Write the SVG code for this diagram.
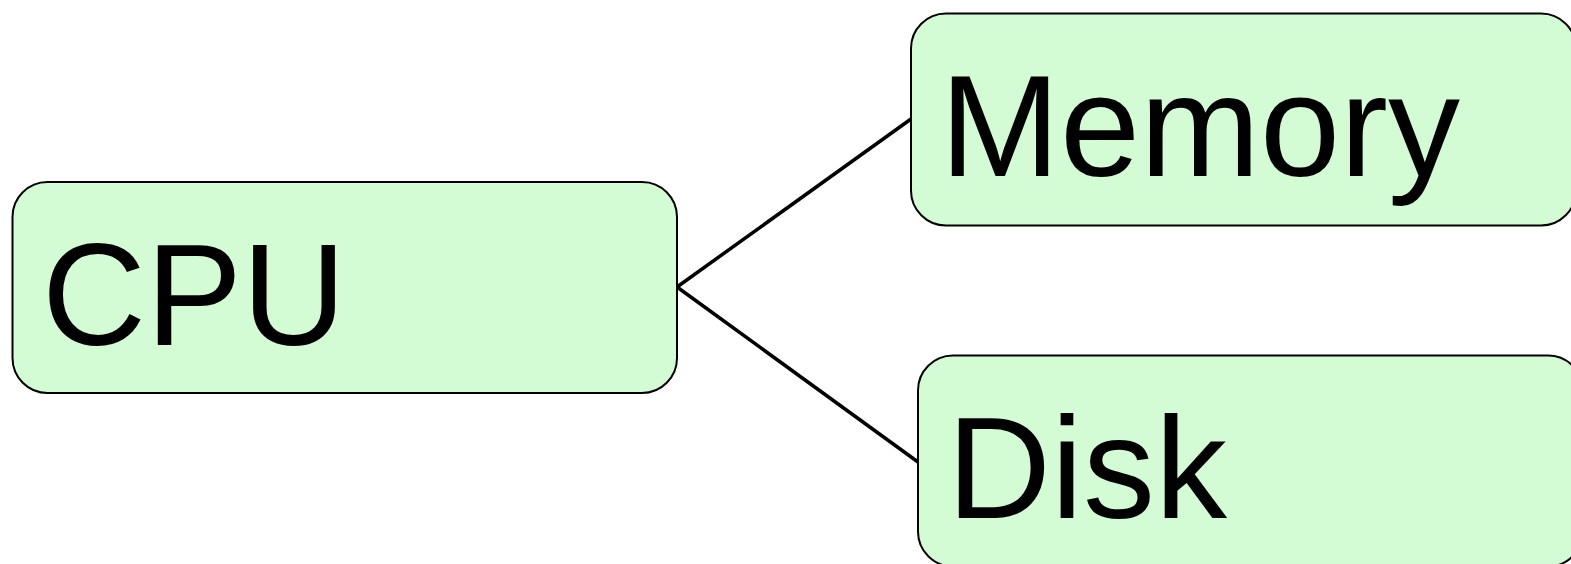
<svg xmlns="http://www.w3.org/2000/svg" width="1571" height="564" viewBox="0 0 1571 564">
<style>
.box{fill:#d3fcd5;stroke:#000;stroke-width:2}
.lbl{font-family:"Liberation Sans",Arial,sans-serif;font-size:144px;fill:#000}
.edge{stroke:#000;stroke-width:3.5;fill:none}
</style>
<rect width="1571" height="564" fill="#fff"/>
<g id="connectors">
<line class="edge" x1="677" y1="287" x2="911" y2="119"/>
<line class="edge" x1="677" y1="287" x2="918" y2="462"/>
</g>
<g id="cpu">
<rect class="box" x="12.5" y="182" width="664.5" height="211" rx="35"/>
<text class="lbl" x="42" y="345">CPU</text>
</g>
<g id="memory">
<rect class="box" x="911" y="13.5" width="665" height="212" rx="35"/>
<text class="lbl" x="940" y="176">Memory</text>
</g>
<g id="disk">
<rect class="box" x="918" y="355.5" width="665" height="211" rx="35"/>
<text class="lbl" x="947" y="518">Disk</text>
</g>
</svg>
